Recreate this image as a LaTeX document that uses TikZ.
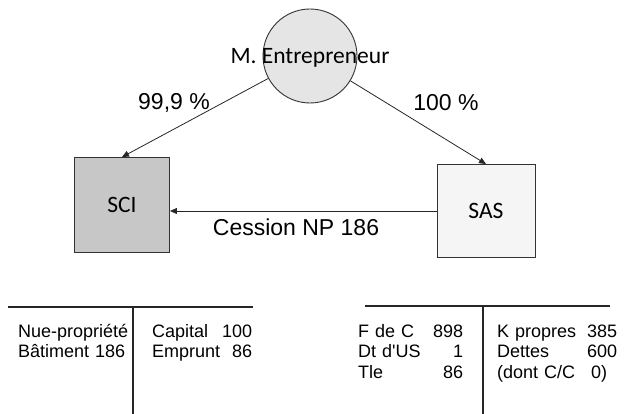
\documentclass[tikz,border=0pt]{standalone}
\usepackage{fontspec}
\setmainfont{Liberation Sans}
\newfontfamily\calibri{Carlito}
\usetikzlibrary{arrows.meta}

\begin{document}
\begin{tikzpicture}[x=1pt,y=-1pt]
\tikzstyle{entity}=[draw=black!80, line width=0.9pt, inner sep=0pt]
\tikzstyle{entname}=[font=\calibri\fontsize{23.5}{27}\selectfont, inner sep=0pt]
\tikzstyle{lbl}=[font=\fontsize{23}{27}\selectfont, inner sep=0pt]
\tikzstyle{link}=[draw=black!85, line width=0.8pt, -{Triangle[length=7pt,width=6pt]}]
\tikzstyle{acct}=[font=\fontsize{18}{20.5}\selectfont, align=left, inner sep=0pt, anchor=base west]
\tikzstyle{tline}=[draw=black!85, line width=1.1pt]
\useasboundingbox (0,0) rectangle (624,414);
\node[entity, circle, fill=black!10, minimum size=94pt] (ent) at (310,56) {};
\node[entname] (entlabel) at (310,58) {M. Entrepreneur};
\node[entity, rectangle, fill=black!22, minimum width=95pt, minimum height=95pt] (sci) at (122,205) {};
\node[entname] (scilabel) at (sci) {SCI};
\node[entity, rectangle, fill=black!4, minimum width=98pt, minimum height=93pt] (sas) at (486,211) {};
\node[entname] (saslabel) at (sas) {SAS};
\draw[link] (ent) -- (sci.north);
\draw[link] (ent) -- (sas.north);
\draw[link] (sas.west) -- (sas.west -| sci.east);
\node[lbl] (pctsci) at (174,103) {99,9 \%};
\node[lbl] (pctsas) at (446,103) {100 \%};
\node[lbl] (cession) at (296,227) {Cession NP 186};
\draw[tline] (8,307) -- (253,307);
\draw[tline] (133,307) -- (133,414);
\node[acct, text width=114pt] (sciactif) at (18,337) {Nue-propriété\\Bâtiment 186};
\node[acct, text width=100pt] (scipassif) at (152,337) {Capital\hfill 100\\Emprunt\hfill 86};
\draw[tline] (365,306) -- (610,306);
\draw[tline] (483,306) -- (483,414);
\node[acct, text width=105pt] (sasactif) at (358,337) {F de C\hfill 898\\Dt d\textquotesingle US\hfill 1\\Tle\hfill 86};
\node[acct, text width=120pt] (saspassif) at (497,337) {K propres\hfill 385\\Dettes\hfill 600\\(dont C/C\hfill 0)\phantom{0}};
\end{tikzpicture}
\end{document}
